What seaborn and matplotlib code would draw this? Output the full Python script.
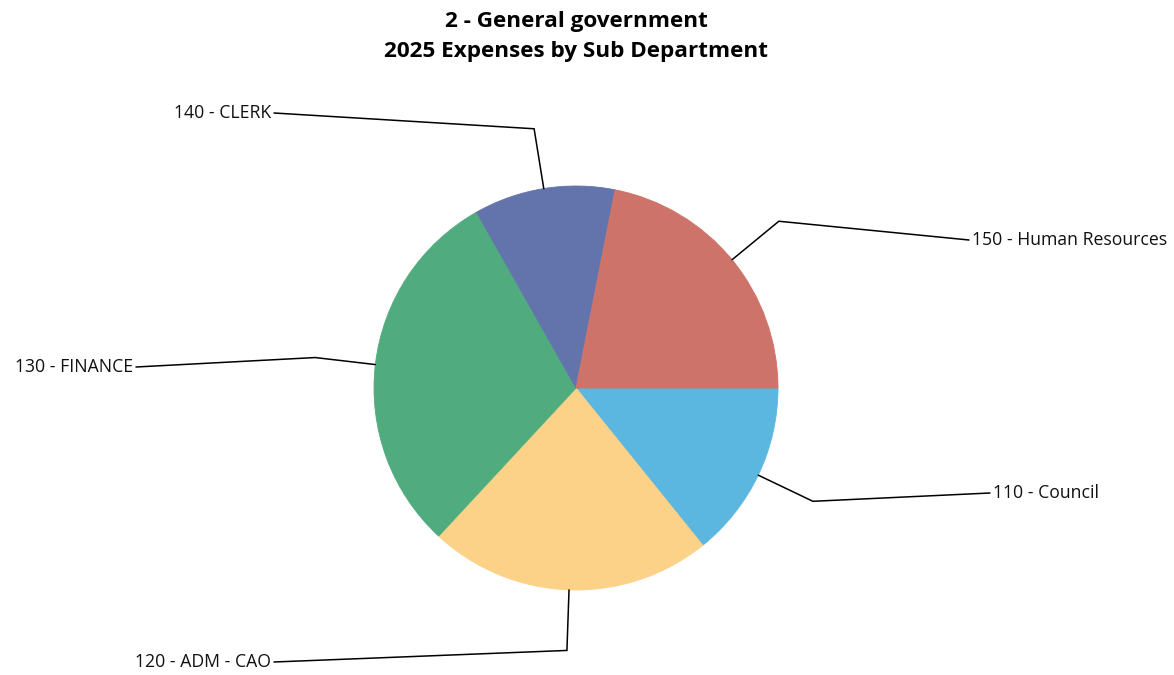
import numpy as np
import matplotlib
matplotlib.use("Agg")
import matplotlib.pyplot as plt
import seaborn as sns

# Data (clockwise from 3 o'clock)
categories = ["110 - Council", "120 - ADM - CAO", "130 - FINANCE", "140 - CLERK", "150 - Human Resources"]
shares = [14.2, 22.7, 29.9, 11.3, 21.9]
colors = ["#5BB7E0", "#FCD188", "#50AB7F", "#6374AC", "#CD7369"]
title_lines = ["2 - General government", "2025 Expenses by Sub Department"]

sns.set_theme(style="white")
plt.rcParams['font.family'] = ['Open Sans', 'DejaVu Sans']

W, H = 1174, 675
fig = plt.figure(figsize=(W / 100, H / 100), dpi=100)
ax = fig.add_axes([0, 0, 1, 1])

cx, cy, R = 576, H - 388, 202
wedges, _ = ax.pie(shares, colors=colors, startangle=0, counterclock=False,
                   center=(cx, cy), radius=R, frame=True,
                   wedgeprops=dict(linewidth=0.6, edgecolor=None, antialiased=True))
for w in wedges:
    w.set_edgecolor(w.get_facecolor())
ax.set_xlim(0, W)
ax.set_ylim(0, H)
ax.axis("off")

# label layout (pixel y from top), ha
label_pos = {
    "110 - Council": (993, 493, "left"),
    "120 - ADM - CAO": (271, 662, "right"),
    "130 - FINANCE": (133, 367, "right"),
    "140 - CLERK": (271, 113, "right"),
    "150 - Human Resources": (972, 240, "left"),
}

for w, cat in zip(wedges, categories):
    mid = np.deg2rad((w.theta1 + w.theta2) / 2)
    x0, y0 = cx + R * np.cos(mid), cy + R * np.sin(mid)
    x1, y1 = cx + 1.3 * R * np.cos(mid), cy + 1.3 * R * np.sin(mid)
    lx, ly, ha = label_pos[cat]
    ly = H - ly
    ex = lx - 3 if ha == "left" else lx + 3
    ax.plot([x0, x1, ex], [y0, y1, ly], color="black", lw=1.1, solid_joinstyle="miter")
    ax.text(lx, ly, cat, ha=ha, va="center", fontsize=12.7, color="#111111")

fig.text(576 / W, 1 - 21 / H, title_lines[0], ha="center", va="center",
         fontsize=16.2, fontweight="bold", color="black")
fig.text(576 / W, 1 - 51 / H, title_lines[1], ha="center", va="center",
         fontsize=16.2, fontweight="bold", color="black")

fig.savefig("out.png", dpi=100)
